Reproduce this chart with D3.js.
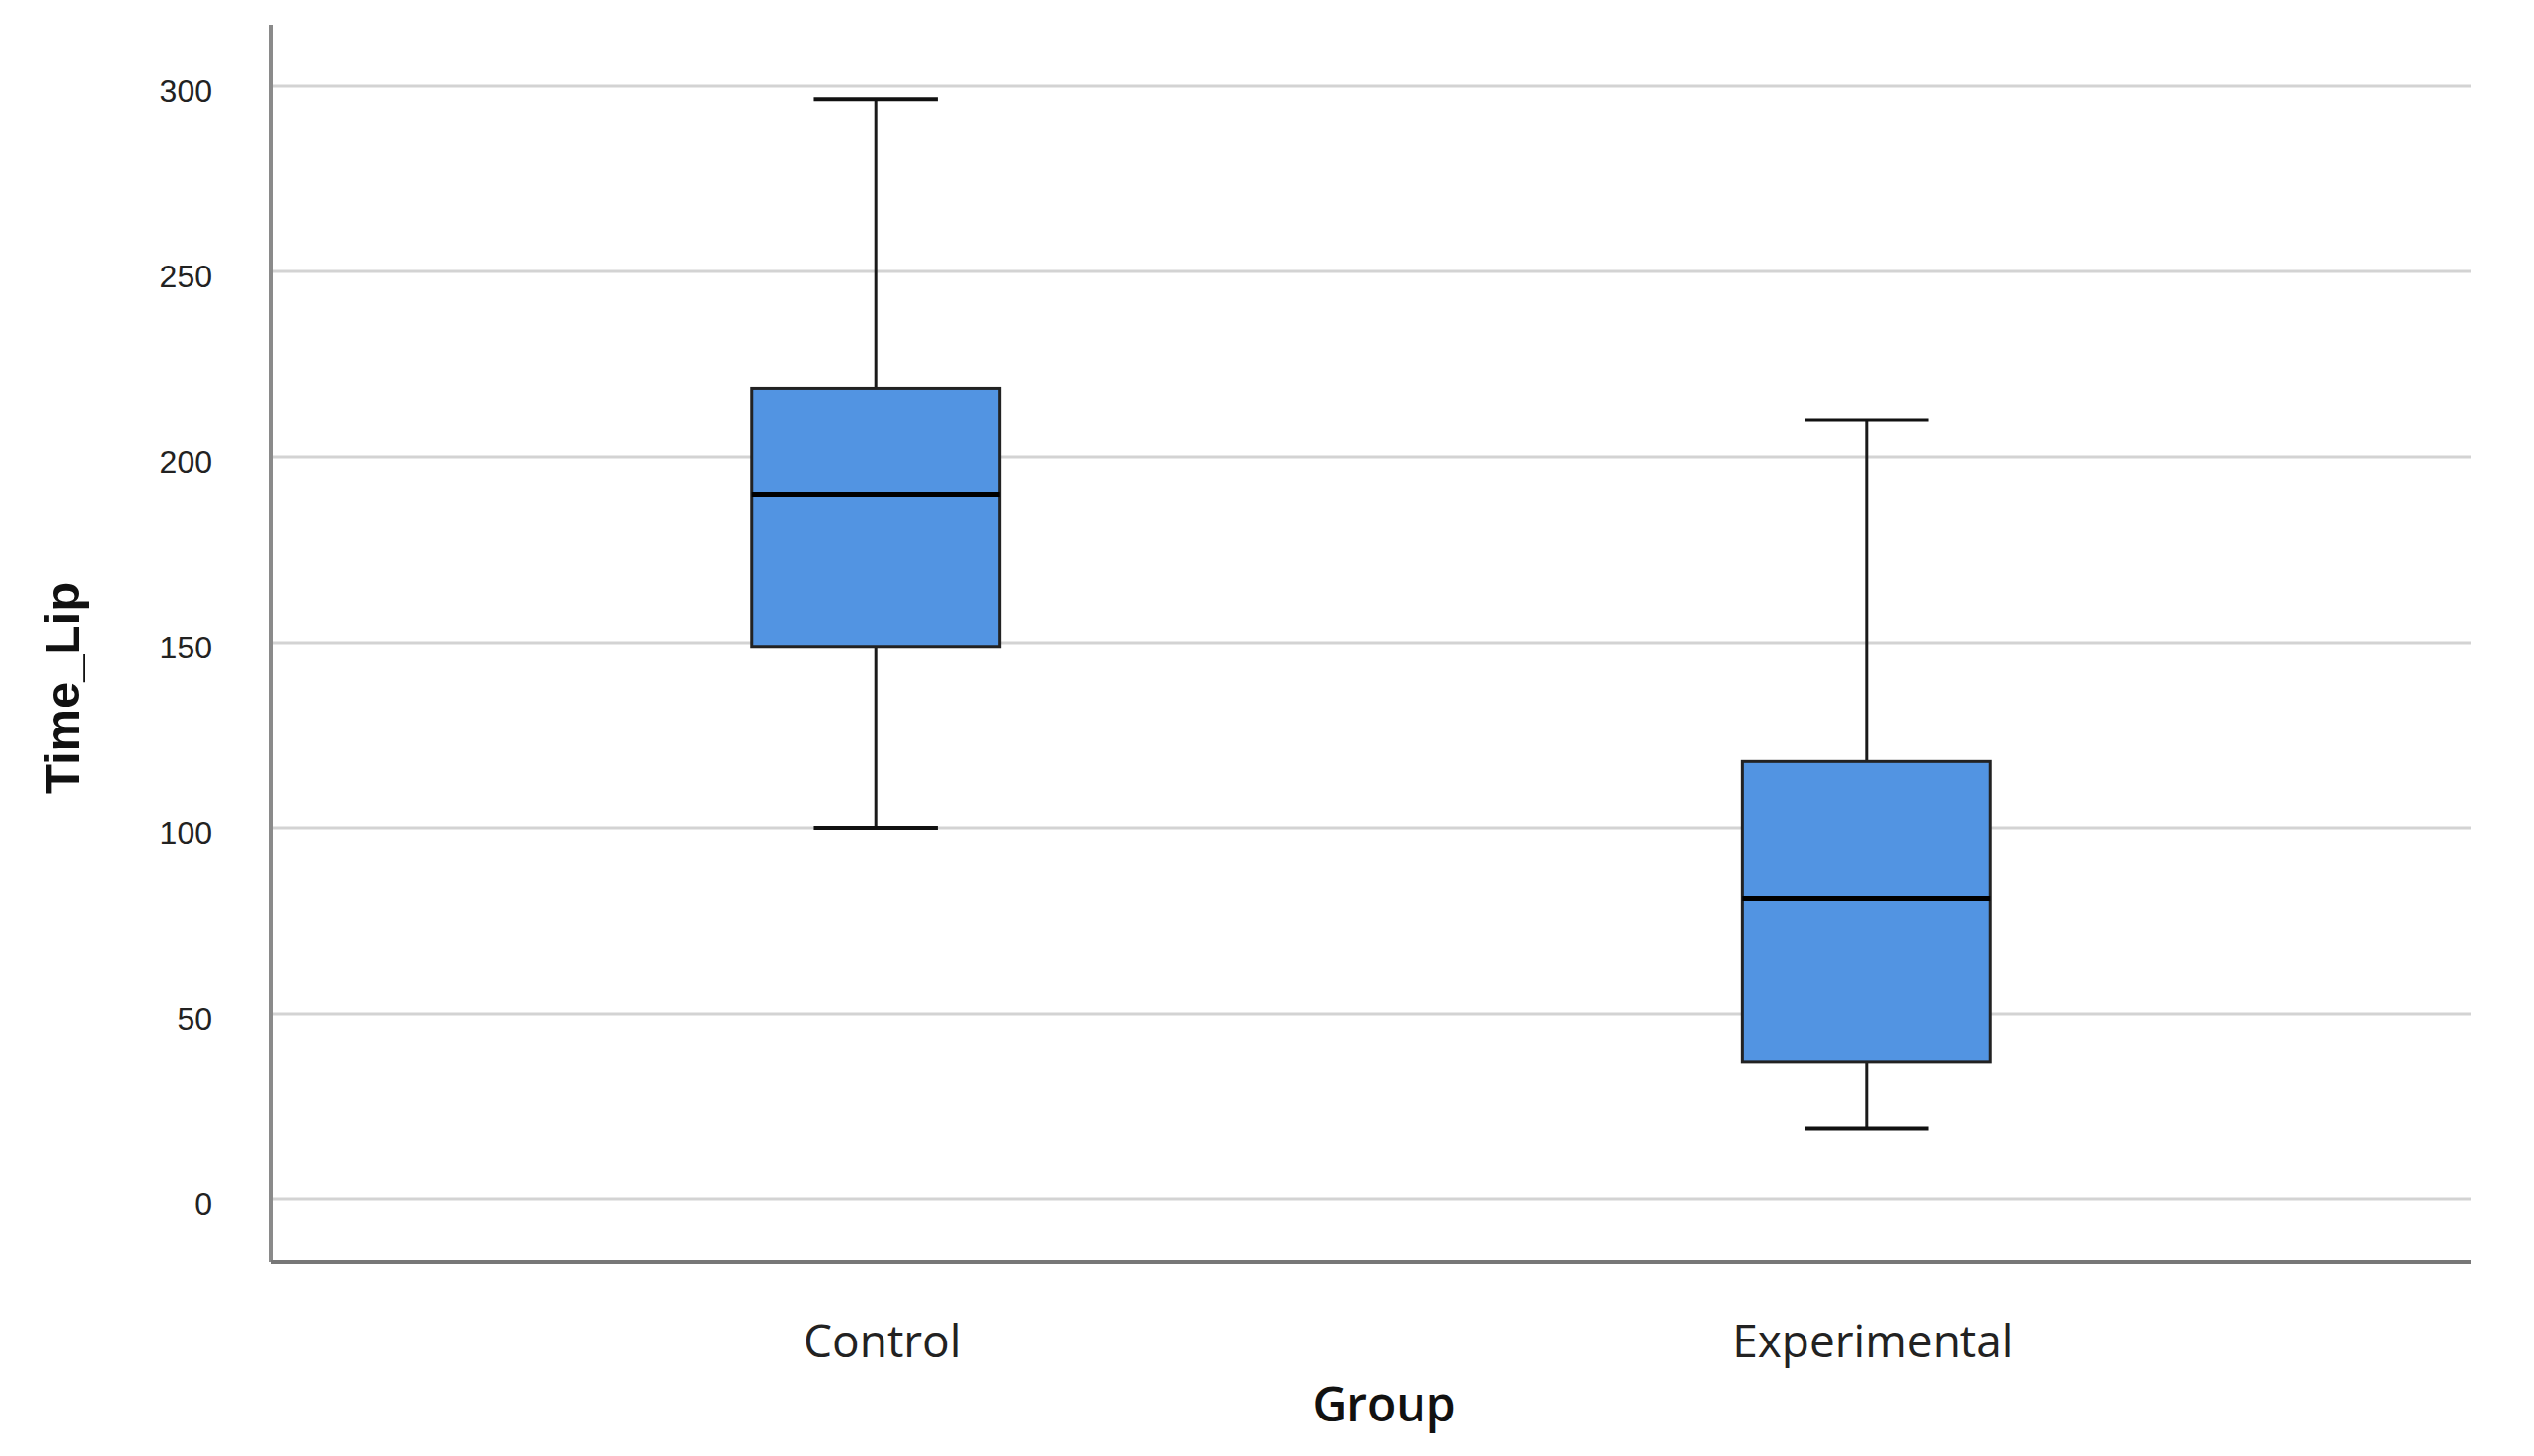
<!DOCTYPE html>
<html>
<head>
<meta charset="utf-8">
<script src="https://cdn.jsdelivr.net/npm/d3@7"></script>
<style>
  body { margin: 0; background: #fff; }
  .tick text { font-family: "Liberation Sans", Arial, sans-serif; }
</style>
</head>
<body>
<div id="chart"></div>
<script>
// valeurs
var groups = ["Control", "Experimental"];
var mins = [100, 19];
var q1s = [149, 37];
var medians = [190, 81];
var q3s = [218.5, 118];
var maxs = [296.5, 210];
var yTicks = [0, 50, 100, 150, 200, 250, 300];

var width = 2567,
  height = 1475,
  plotLeft = 275,
  plotRight = 2503,
  plotTop = 25,
  plotBottom = 1278,
  boxColor = "#5294e2";

var boxes = groups.map(function(g, i) {
  return {group: g, min: mins[i], q1: q1s[i], median: medians[i], q3: q3s[i], max: maxs[i]};
});

var y = d3.scaleLinear().domain([0, 300]).range([1215, 87]);
var x = d3.scalePoint().domain(groups).range([plotLeft, plotRight]).padding(0.61);
var boxWidth = x.step() * 0.25,
  capWidth = boxWidth / 2;

var svg = d3.select("#chart").append("svg")
  .attr("width", width)
  .attr("height", height);

// grille horizontale
svg.append("g")
  .selectAll("line")
  .data(yTicks)
  .join("line")
  .attr("x1", plotLeft).attr("x2", plotRight)
  .attr("y1", d => y(d)).attr("y2", d => y(d))
  .style("stroke", "#d3d3d3")
  .style("stroke-width", 3);

// axe y : labels seulement
var yAxis = svg.append("g")
  .attr("transform", "translate(" + plotLeft + ",5)")
  .call(d3.axisLeft(y).tickValues(yTicks).tickSize(0).tickPadding(60));
yAxis.select(".domain").remove();
yAxis.selectAll("text")
  .style("font-size", "32px")
  .style("fill", "#222");

// axe x
var xAxis = svg.append("g")
  .attr("transform", "translate(6," + plotBottom + ")")
  .call(d3.axisBottom(x).tickSize(0).tickPadding(0));
xAxis.select(".domain").remove();
xAxis.selectAll("text")
  .attr("dy", 0)
  .attr("y", 97)
  .style("font-family", "'Open Sans', sans-serif")
  .style("font-size", "46px")
  .style("fill", "#222");

// lignes des axes
svg.append("line")
  .attr("x1", plotLeft).attr("x2", plotLeft)
  .attr("y1", plotTop).attr("y2", plotBottom)
  .style("stroke", "#8a8a8a").style("stroke-width", 4);
svg.append("line")
  .attr("x1", plotLeft).attr("x2", plotRight)
  .attr("y1", plotBottom).attr("y2", plotBottom)
  .style("stroke", "#777").style("stroke-width", 4);

// boites a moustaches
var g = svg.append("g")
  .selectAll("g")
  .data(boxes)
  .join("g")
  .attr("transform", d => "translate(" + x(d.group) + ",0)");

g.append("line")
  .attr("y1", d => y(d.max)).attr("y2", d => y(d.q3))
  .style("stroke", "#1a1a1a").style("stroke-width", 3);
g.append("line")
  .attr("y1", d => y(d.q1)).attr("y2", d => y(d.min))
  .style("stroke", "#1a1a1a").style("stroke-width", 3);

g.append("line")
  .attr("x1", -capWidth / 2).attr("x2", capWidth / 2)
  .attr("y1", d => y(d.max)).attr("y2", d => y(d.max))
  .style("stroke", "#111").style("stroke-width", 4);
g.append("line")
  .attr("x1", -capWidth / 2).attr("x2", capWidth / 2)
  .attr("y1", d => y(d.min)).attr("y2", d => y(d.min))
  .style("stroke", "#111").style("stroke-width", 4);

g.append("rect")
  .attr("x", -boxWidth / 2)
  .attr("width", boxWidth)
  .attr("y", d => y(d.q3))
  .attr("height", d => y(d.q1) - y(d.q3))
  .style("fill", boxColor)
  .style("stroke", "#222")
  .style("stroke-width", 3);

g.append("line")
  .attr("x1", -boxWidth / 2).attr("x2", boxWidth / 2)
  .attr("y1", d => y(d.median)).attr("y2", d => y(d.median))
  .style("stroke", "#000").style("stroke-width", 5);

// titres des axes
svg.append("text")
  .attr("x", 1402)
  .attr("y", 1440)
  .attr("text-anchor", "middle")
  .style("font-family", "'Open Sans', sans-serif")
  .style("font-weight", 600)
  .style("font-size", "48px")
  .style("fill", "#111")
  .text("Group");

svg.append("text")
  .attr("transform", "translate(80,697) rotate(-90)")
  .attr("text-anchor", "middle")
  .style("font-family", "'Liberation Sans', Arial, sans-serif")
  .style("font-weight", "bold")
  .style("font-size", "49px")
  .style("fill", "#111")
  .text("Time_Lip");
</script>
</body>
</html>
